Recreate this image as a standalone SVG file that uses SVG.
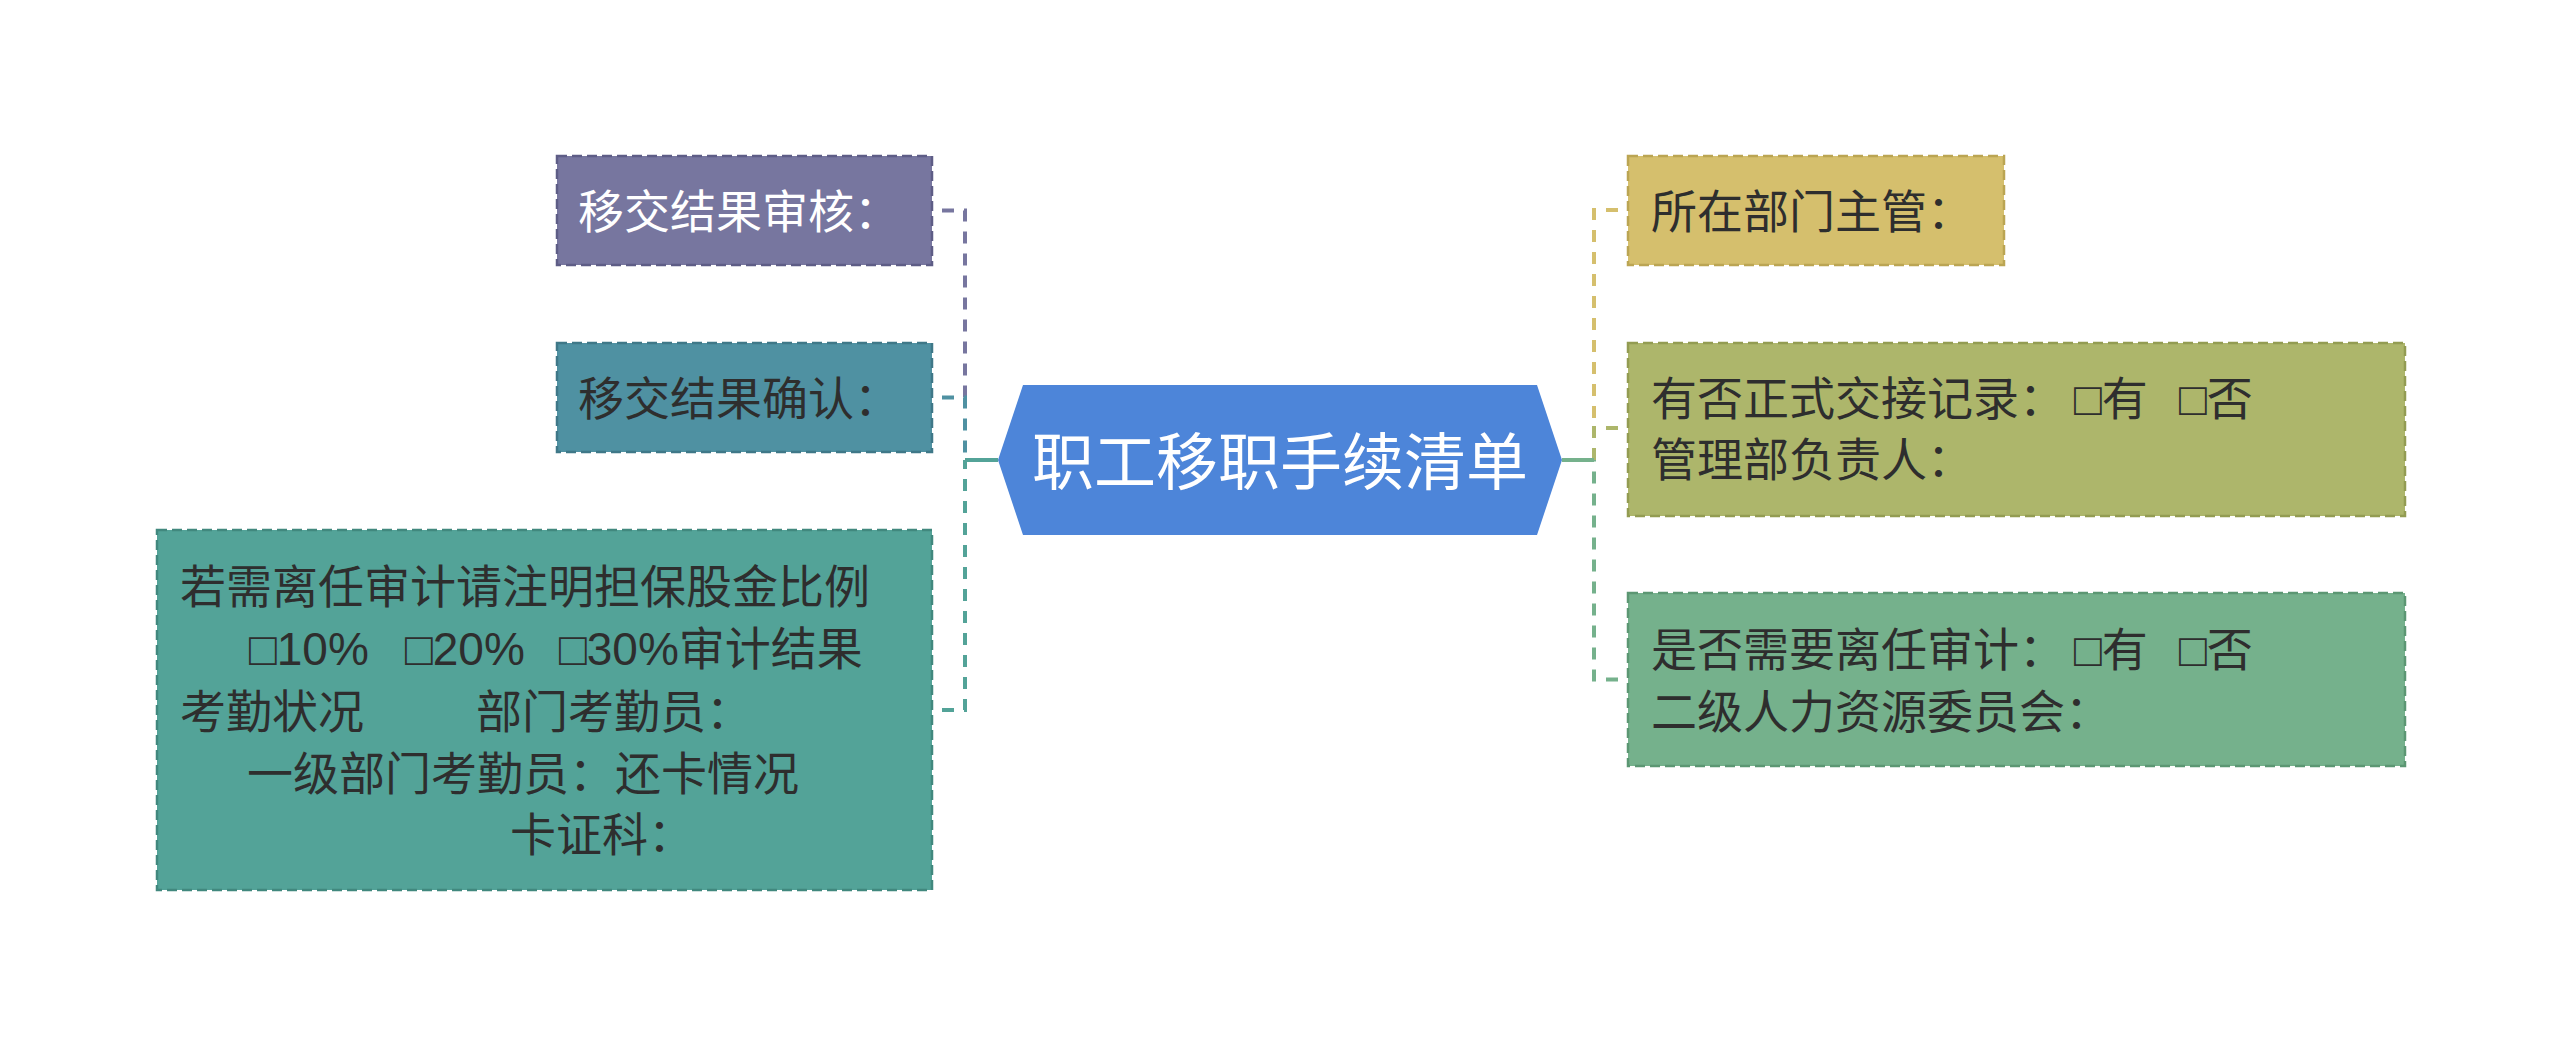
<svg xmlns="http://www.w3.org/2000/svg" width="2560" height="1046" viewBox="0 0 2560 1046">
<style>
.t{font-family:"Liberation Sans","Noto Sans CJK SC",sans-serif;font-size:46px;fill:#2e2e2e}
.w{fill:#ffffff}
.box{stroke-width:2.5;stroke-dasharray:10 5}
.c{fill:none;stroke-width:4;stroke-dasharray:12 10;stroke-dashoffset:12}
.s{fill:none;stroke-width:4}
</style>
<rect width="2560" height="1046" fill="#ffffff"/>
<g id="connectors">
<path class="c" d="M932 210.5H965V398" stroke="#77769f"/>
<path class="c" d="M932 397.5H965V460" stroke="#4f91a2"/>
<path class="c" d="M932 710H965V460" stroke="#53a398"/>
<path class="s" d="M998 460H965" stroke="#53a398"/>
<path class="c" d="M1628 210H1594V428" stroke="#d5bf6d"/>
<path class="c" d="M1628 428H1594V460" stroke="#adb66b"/>
<path class="c" d="M1628 679.5H1594V460" stroke="#75b18c"/>
<path class="s" d="M1562 460H1594" stroke="#75b18c"/>
</g>
<g id="center">
<polygon points="998,460 1023,385 1537,385 1562,460 1537,535 1023,535" fill="#4d85d9"/>
<text class="t w" x="1280" y="485" font-size="62" text-anchor="middle" style="font-size:62px">职工移职手续清单</text>
</g>
<g id="n1">
<rect class="box" x="557" y="156" width="375" height="109" fill="#77769f" stroke="#5e5d86"/>
<text class="t w" x="578" y="228">移交结果审核：</text>
</g>
<g id="n2">
<rect class="box" x="557" y="343" width="375" height="109" fill="#4f91a2" stroke="#3f7888"/>
<text class="t" x="578" y="415">移交结果确认：</text>
</g>
<g id="n3">
<rect class="box" x="157" y="530" width="775" height="360" fill="#53a398" stroke="#41887e"/>
<text class="t" x="180" y="603">若需离任审计请注明担保股金比例</text>
<text class="t" y="665"><tspan x="249">□10%</tspan><tspan x="405">□20%</tspan><tspan x="559">□30%审计结果</tspan></text>
<text class="t" y="728"><tspan x="180">考勤状况</tspan><tspan x="476">部门考勤员：</tspan></text>
<text class="t" x="247" y="790">一级部门考勤员：还卡情况</text>
<text class="t" x="510" y="851">卡证科：</text>
</g>
<g id="n4">
<rect class="box" x="1628" y="156" width="376" height="109" fill="#d5bf6d" stroke="#bba553"/>
<text class="t" x="1651" y="228">所在部门主管：</text>
</g>
<g id="n5">
<rect class="box" x="1628" y="343" width="777" height="173" fill="#adb66b" stroke="#939c52"/>
<text class="t" y="415"><tspan x="1651">有否正式交接记录：</tspan><tspan x="2074">□有</tspan><tspan x="2179">□否</tspan></text>
<text class="t" x="1651" y="476">管理部负责人：</text>
</g>
<g id="n6">
<rect class="box" x="1628" y="593" width="777" height="173" fill="#75b18c" stroke="#5c9773"/>
<text class="t" y="666"><tspan x="1651">是否需要离任审计：</tspan><tspan x="2074">□有</tspan><tspan x="2179">□否</tspan></text>
<text class="t" x="1651" y="728">二级人力资源委员会：</text>
</g>
</svg>
